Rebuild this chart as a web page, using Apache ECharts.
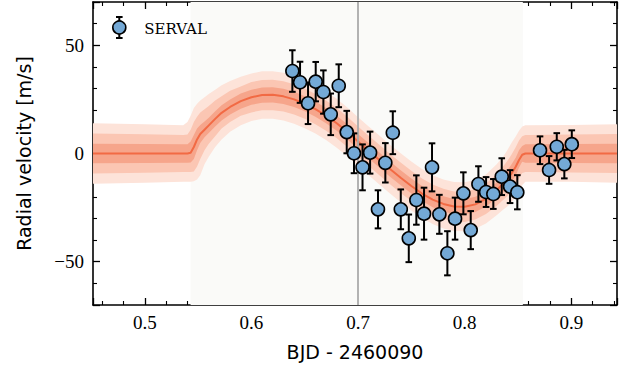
<!DOCTYPE html>
<html><head><meta charset="utf-8">
<script src="https://cdn.jsdelivr.net/npm/echarts@6/dist/echarts.min.js"></script>
<style>html,body{margin:0;padding:0;background:#fff}#c{width:629px;height:371px}</style>
</head><body><div id="c"></div>
<script>
// ---- observations (SERVAL) ----
const times = [0.6384, 0.6456, 0.6531, 0.6603, 0.6675, 0.6744, 0.6819, 0.6894, 0.6962, 0.7042,
  0.7113, 0.7187, 0.7256, 0.7326, 0.7401, 0.7476, 0.7547, 0.7619, 0.7694, 0.7763,
  0.7838, 0.7910, 0.7988, 0.8057, 0.8129, 0.8201, 0.8269, 0.8348, 0.8426, 0.8494,
  0.8707, 0.8792, 0.8864, 0.8935, 0.9005];
const rv = [38.1, 32.9, 23.2, 33.2, 28.4, 18.1, 31.3, 9.9, 0.1, -6.4,
  0.4, -25.8, -4.3, 9.6, -25.8, -39.2, -21.5, -27.8, -6.4, -28.1,
  -46.1, -30.1, -18.4, -35.4, -14.1, -17.8, -18.7, -10.7, -15.3, -17.9,
  1.5, -7.6, 3.1, -4.9, 4.3];
const rvErr = [9.6, 9.5, 9.6, 9.1, 10.0, 9.6, 9.9, 9.8, 9.2, 10.6,
  9.7, 8.8, 9.1, 9.9, 9.2, 11.0, 11.4, 12.0, 11.1, 9.0,
  10.2, 9.7, 9.7, 8.8, 8.2, 6.9, 6.9, 8.5, 7.6, 7.9,
  6.4, 6.4, 6.3, 6.6, 6.4];

// ---- model (median curve and credible bands) ----
const modelT = [0.4514, 0.500, 0.536, 0.540, 0.543, 0.546, 0.549, 0.552, 0.556, 0.560,
  0.566, 0.572, 0.580, 0.590, 0.600, 0.610, 0.620, 0.630, 0.640, 0.650,
  0.660, 0.670, 0.680, 0.690, 0.700, 0.710, 0.720, 0.730, 0.740, 0.750,
  0.760, 0.770, 0.780, 0.790, 0.800, 0.810, 0.820, 0.830, 0.836, 0.840,
  0.844, 0.848, 0.851, 0.854, 0.857, 0.860, 0.900, 0.9429];
const modelV = [0, 0, 0, 0, 0.3, 3, 6.5, 9, 11, 13,
  16, 18.8, 21.5, 24.2, 26, 27, 27.1, 26.4, 25, 23,
  20.5, 17.5, 14, 10, 5.5, 1.2, -3, -7.2, -11.2, -15,
  -18.5, -21.3, -23.3, -24.5, -24.6, -23.5, -21, -17, -14, -11.8,
  -9.2, -6, -3, -0.6, 0, 0, 0, 0];
const lo3 = [-14, -13.5, -13, -13, -13, -12.8, -12, -10, -5, -1.5,
  3, 6.5, 10, 13, 15, 16, 16, 15.3, 13.7, 11.7,
  9.2, 6.2, 2.7, -1.3, -5.8, -10.1, -14.3, -18.5, -22.5, -26.3,
  -29.8, -32.6, -34.6, -35.8, -35.9, -34.8, -32.3, -28.5, -26, -24.5,
  -22.5, -20, -17.5, -14.5, -13, -13, -13, -13.5];
const lo2 = [-9.2, -8.9, -8.6, -8.6, -8.6, -8.3, -6, -2.5, 1.5, 4.5,
  8, 11.5, 14.5, 17.5, 19, 20, 20, 19.4, 18, 16,
  13.5, 10.5, 7, 3, -1.5, -5.8, -10, -14.2, -18.2, -22,
  -25.5, -28.3, -30.3, -31.5, -31.6, -30.5, -28, -24.2, -21.5, -19.8,
  -17.5, -14.5, -11.5, -9, -8.6, -8.6, -8.8, -9];
const lo1 = [-4.5, -4.4, -4.3, -4.3, -4.2, -2.5, 1.5, 4.8, 7.5, 9.5,
  12.5, 15.3, 18, 20.7, 22.5, 23.5, 23.6, 22.9, 21.5, 19.5,
  17, 14, 10.5, 6.5, 2, -2.3, -6.5, -10.7, -14.7, -18.5,
  -22, -24.8, -26.8, -28, -28.1, -27, -24.5, -20.6, -17.8, -15.7,
  -13, -10, -6.5, -3.8, -4.3, -4.3, -4.4, -4.5];
const hi1 = [4.5, 4.4, 4.3, 4.3, 5.5, 8.5, 11.5, 13.2, 14.8, 16.5,
  19.5, 22.3, 25, 27.7, 29.5, 30.5, 30.6, 29.9, 28.5, 26.5,
  24, 21, 17.5, 13.5, 9, 4.7, 0.5, -3.7, -7.7, -11.5,
  -15, -17.8, -19.8, -21, -21.1, -20, -17.5, -13.4, -10.2, -7.8,
  -5, -1.8, 1.5, 3.5, 4.3, 4.3, 4.4, 4.5];
const hi2 = [9.2, 8.9, 8.6, 8.8, 11, 14.5, 17, 19, 20.5, 22,
  24.5, 26.5, 29, 31, 33, 34, 34.1, 33.4, 32, 30,
  27.5, 24.5, 21, 17, 12.5, 8.2, 4, -0.2, -4.2, -8,
  -11.5, -14.3, -16.3, -17.5, -17.6, -16.5, -14, -9.5, -6, -3.5,
  -0.5, 3, 6, 8, 8.6, 8.6, 8.8, 9];
const hi3 = [14, 13.5, 13, 14.5, 17.5, 21, 23, 24.5, 26, 27.5,
  29.5, 31.5, 33.5, 35.5, 37, 38, 38, 37.3, 36.3, 34.3,
  31.8, 28.8, 25.3, 21.3, 16.8, 12.5, 8.3, 4.1, 0.1, -3.7,
  -7.2, -10, -12, -13.2, -13.3, -12.2, -9.7, -5, -1.5, 1.5,
  5, 8, 10.5, 12.5, 13, 13, 13.2, 13.5];

// ---- axes / annotations ----
const xMin = 0.4514, xMax = 0.9429;
const yMin = -70, yMax = 70;
const transitStart = 0.5429, transitEnd = 0.8546, midTransit = 0.6988;
const legendLabel = 'SERVAL';
const xTitle = 'BJD - 2460090';
const yTitle = 'Radial velocity [m/s]';

const chart = echarts.init(document.getElementById('c'), null, {renderer: 'svg'});

const pointColor = '#74a9d6';
const bands = [
  {lo: lo3, hi: hi3, color: '#fde3d9'},
  {lo: lo2, hi: hi2, color: '#fbc6b3'},
  {lo: lo1, hi: hi1, color: '#f6a58b'}
];

const axisBase = {
  type: 'value',
  axisLine: {show: true, onZero: false, lineStyle: {color: '#000', width: 1.6}},
  axisTick: {show: true, inside: true, length: 7, lineStyle: {color: '#000', width: 1.3}},
  minorTick: {show: true, splitNumber: 5, length: 4, lineStyle: {color: '#000', width: 1.1}},
  splitLine: {show: false}, minorSplitLine: {show: false}
};
const xFmt = v => (Math.abs(v * 10 - Math.round(v * 10)) < 1e-6 ? v.toFixed(1) : '');
const yFmt = v => (Math.abs(v / 50 - Math.round(v / 50)) < 1e-6 ? (v < 0 ? '\u2212' + (-v) : String(v)) : '');
const LZ = 50;

const option = {
  animation: false,
  backgroundColor: '#fff',
  grid: {left: 93, right: 12, top: 2, bottom: 66, containLabel: false},
  graphic: [{
    type: 'group', x: 119.3, y: 27.5, z: LZ, silent: true,
    children: [
      {type: 'line', z: LZ, shape: {x1: 0, y1: -10.5, x2: 0, y2: 10.5}, style: {stroke: '#000', lineWidth: 2}},
      {type: 'line', z: LZ, shape: {x1: -3.3, y1: -10.5, x2: 3.3, y2: -10.5}, style: {stroke: '#000', lineWidth: 2}},
      {type: 'line', z: LZ, shape: {x1: -3.3, y1: 10.5, x2: 3.3, y2: 10.5}, style: {stroke: '#000', lineWidth: 2}},
      {type: 'circle', z: LZ + 1, shape: {cx: 0, cy: 0, r: 6.5}, style: {fill: pointColor, stroke: '#000', lineWidth: 1.6}},
      {type: 'text', z: LZ + 1, x: 25, y: 1, style: {text: legendLabel, fontFamily: 'DejaVu Serif', fontSize: 15,
        fill: '#000', textAlign: 'left', textVerticalAlign: 'middle'}}
    ]
  }],
  xAxis: [
    Object.assign({}, axisBase, {
      position: 'bottom', min: xMin, max: xMax, splitNumber: 5,
      axisLabel: {show: true, formatter: xFmt, showMinLabel: false, showMaxLabel: false,
        fontFamily: 'Liberation Serif', fontSize: 19, color: '#000', margin: 8},
      name: xTitle, nameLocation: 'middle', nameGap: 37,
      nameTextStyle: {fontFamily: 'DejaVu Sans', fontSize: 19, color: '#000'}
    }),
    Object.assign({}, axisBase, {
      position: 'top', min: xMin, max: xMax, splitNumber: 5, axisLabel: {show: false}
    })
  ],
  yAxis: [
    Object.assign({}, axisBase, {
      position: 'left', min: yMin, max: yMax, splitNumber: 3,
      axisLabel: {show: true, formatter: yFmt, showMinLabel: false, showMaxLabel: false,
        fontFamily: 'Liberation Serif', fontSize: 19, color: '#000', margin: 9},
      name: yTitle, nameLocation: 'middle', nameGap: 60,
      nameTextStyle: {fontFamily: 'DejaVu Sans', fontSize: 19, color: '#000'}
    }),
    Object.assign({}, axisBase, {
      position: 'right', min: yMin, max: yMax, splitNumber: 3, axisLabel: {show: false}
    })
  ],
  series: [
    {type: 'line', data: [], z: 0, silent: true,
      markArea: {silent: true, itemStyle: {color: '#fafaf8', opacity: 1},
        data: [[{xAxis: transitStart}, {xAxis: transitEnd}]]}},
    {type: 'custom', name: 'bands', z: 1, silent: true,
      data: bands.map((b, k) => [xMin, 0, k]),
      encode: {x: 0, y: 1},
      renderItem: function (params, api) {
        const b = bands[api.value(2)];
        const pts = [];
        for (let i = 0; i < modelT.length; i++) pts.push(api.coord([modelT[i], b.hi[i]]));
        for (let i = modelT.length - 1; i >= 0; i--) pts.push(api.coord([modelT[i], b.lo[i]]));
        return {type: 'polygon', shape: {points: pts}, style: {fill: b.color, stroke: null}};
      }},
    {type: 'line', name: 'model', data: modelT.map((t, i) => [t, modelV[i]]), symbol: 'none', showSymbol: false,
      lineStyle: {color: '#f26a44', width: 2}, z: 2, silent: true,
      markLine: {silent: true, symbol: ['none', 'none'], label: {show: false},
        lineStyle: {color: '#aaaaaa', width: 1.8, type: 'solid'},
        data: [{xAxis: midTransit}]}},
    {type: 'custom', name: 'errorbars', z: 5, silent: true,
      data: times.map((t, i) => [t, rv[i] - rvErr[i], rv[i] + rvErr[i]]),
      encode: {x: 0, y: [1, 2]},
      renderItem: function (params, api) {
        const x = api.value(0);
        const lo = api.coord([x, api.value(1)]);
        const hi = api.coord([x, api.value(2)]);
        const cw = 3.3;
        const st = {stroke: '#000', lineWidth: 2};
        return {type: 'group', children: [
          {type: 'line', shape: {x1: lo[0], y1: lo[1], x2: hi[0], y2: hi[1]}, style: st},
          {type: 'line', shape: {x1: lo[0] - cw, y1: lo[1], x2: lo[0] + cw, y2: lo[1]}, style: st},
          {type: 'line', shape: {x1: hi[0] - cw, y1: hi[1], x2: hi[0] + cw, y2: hi[1]}, style: st}
        ]};
      }},
    {type: 'scatter', name: legendLabel, z: 6, data: times.map((t, i) => [t, rv[i]]),
      symbol: 'circle', symbolSize: 13,
      itemStyle: {color: pointColor, borderColor: '#000', borderWidth: 1.6, opacity: 1}}
  ]
};
chart.setOption(option);
</script>
</body></html>
